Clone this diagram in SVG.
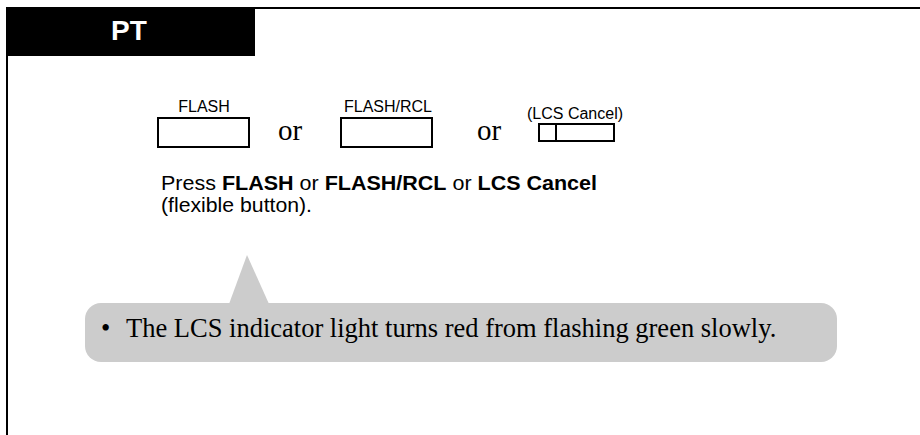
<svg xmlns="http://www.w3.org/2000/svg" width="920" height="435" viewBox="0 0 920 435">
<style>
.sans{font-family:"Liberation Sans",Arial,sans-serif;fill:#000}
.serif{font-family:"Liberation Serif","Times New Roman",serif;fill:#000}
.btn{fill:#fff;stroke:#000;stroke-width:2}
.lbl{font-size:16px;text-anchor:middle}
.or{font-size:29px}
.ins{font-size:20px}
</style>
<rect width="920" height="435" fill="#fff"/>
<g id="frame">
<path d="M7,435 V8 H920" fill="none" stroke="#000" stroke-width="2"/>
<rect x="7" y="8" width="248" height="48" fill="#000"/>
<text x="111" y="40" class="sans" style="font-size:28px;font-weight:bold;fill:#fff">PT</text>
</g>
<g id="btn-flash">
<text x="204" y="112" class="sans lbl">FLASH</text>
<rect x="158" y="118" width="91" height="29" class="btn"/>
</g>
<text x="278" y="140" class="serif or">or</text>
<g id="btn-flashrcl">
<text x="388" y="112" class="sans lbl">FLASH/RCL</text>
<rect x="341" y="118" width="91" height="29" class="btn"/>
</g>
<text x="477" y="140" class="serif or">or</text>
<g id="btn-lcs">
<text x="575" y="119" class="sans lbl">(LCS Cancel)</text>
<rect x="539" y="124" width="75" height="17" class="btn"/>
<line x1="556" y1="124" x2="556" y2="141" stroke="#000" stroke-width="2"/>
</g>
<g id="instruction">
<text x="161" y="190" class="sans ins" textLength="436" lengthAdjust="spacingAndGlyphs">Press <tspan font-weight="bold">FLASH</tspan> or <tspan font-weight="bold">FLASH/RCL</tspan> or <tspan font-weight="bold">LCS Cancel</tspan></text>
<text x="161" y="212" class="sans ins" textLength="151" lengthAdjust="spacingAndGlyphs">(flexible button).</text>
</g>
<g id="callout">
<path d="M229,304 L247,255 L269,304 Z" fill="#ccc"/>
<rect x="85" y="303" width="752" height="59" rx="16" ry="16" fill="#ccc"/>
<text y="337" class="serif" style="font-size:26.5px"><tspan x="101">•</tspan><tspan x="126">The LCS indicator light turns red from flashing green slowly.</tspan></text>
</g>
</svg>
